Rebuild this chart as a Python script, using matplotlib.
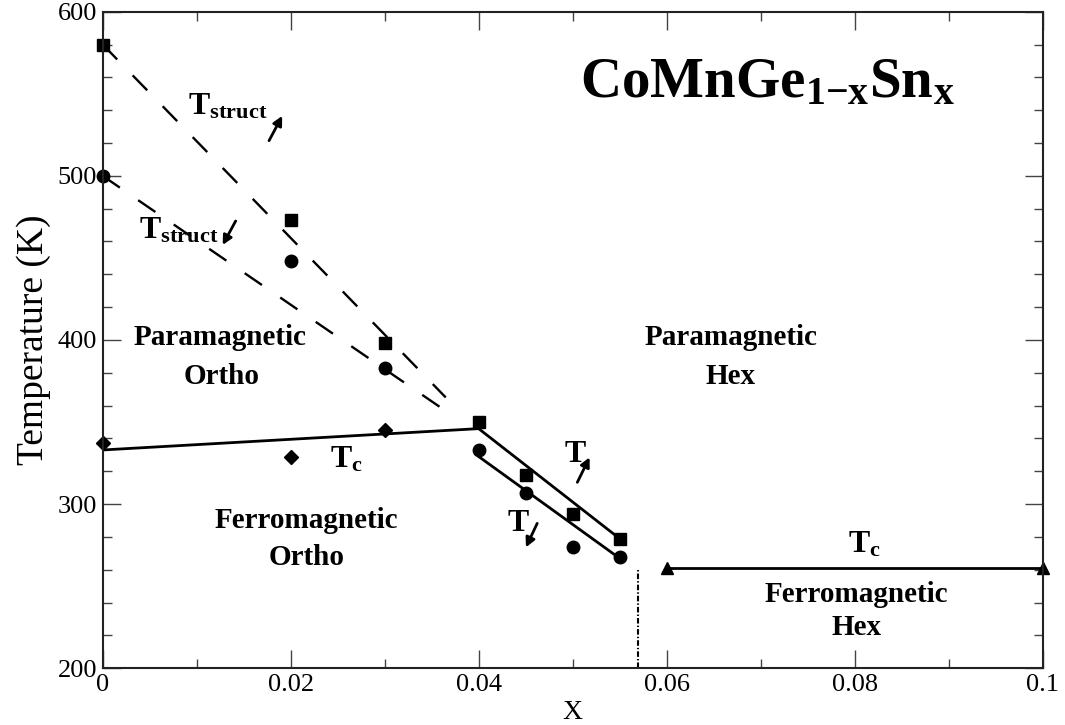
import matplotlib
matplotlib.use("Agg")
import numpy as np
from matplotlib import pyplot as plt

plt.rcParams['font.family'] = ['Liberation Serif', 'DejaVu Serif']
plt.rcParams['mathtext.fontset'] = 'custom'
plt.rcParams['mathtext.rm'] = 'Liberation Serif'
plt.rcParams['mathtext.bf'] = 'Liberation Serif:bold'
plt.rcParams['lines.scale_dashes'] = False

# measured points (x, temperature in K)
sq_x = [0.0, 0.02, 0.03, 0.04, 0.045, 0.05, 0.055]
sq_t = [580, 473, 398, 350, 318, 294, 279]
ci_x = [0.0, 0.02, 0.03, 0.04, 0.045, 0.05, 0.055]
ci_t = [500, 448, 383, 333, 307, 274, 268]
di_x = [0.0, 0.02, 0.03]
di_t = [337, 329, 345]
tri_x = [0.06, 0.1]
tri_t = [261, 261]

# guide lines
struct_hi_x = [0.0, 0.0365]
struct_hi_t = [580, 365]
struct_lo_x = [0.0, 0.0372]
struct_lo_t = [500, 354]
tc_ortho_x = [0.0, 0.04]
tc_ortho_t = [333, 346]
hex_hi_x = [0.04, 0.055]
hex_hi_t = [346, 279]
hex_lo_x = [0.04, 0.055]
hex_lo_t = [329, 267]
boundary_x = [0.057, 0.057]
boundary_t = [200, 261]

# arrows: (tail, tip)
arrows = [((0.0177, 521.4), (0.0191, 536.5)),
          ((0.01415, 472.5), (0.01277, 457.9)),
          ((0.0505, 313.3), (0.0518, 328.5)),
          ((0.04623, 288.3), (0.04503, 273.7))]

# phase labels: (x, T, text)
regions = [(0.0125, 401.8, 'Paramagnetic'), (0.0127, 377.5, 'Ortho'),
           (0.0217, 290.3, 'Ferromagnetic'), (0.0217, 267.8, 'Ortho'),
           (0.0668, 401.8, 'Paramagnetic'), (0.0668, 377.5, 'Hex'),
           (0.0802, 244.7, 'Ferromagnetic'), (0.0802, 224.6, 'Hex')]
# transition labels (left, baseline)
tlabels = [(0.00907, 537.1, r'$\mathbf{T_{struct}}$'),
           (0.00386, 462.1, r'$\mathbf{T_{struct}}$'),
           (0.04907, 325.9, r'$\mathbf{T}$'),
           (0.0430, 283.8, r'$\mathbf{T}$'),
           (0.0242, 322.6, r'$\mathbf{T_c}$'),
           (0.0793, 270.8, r'$\mathbf{T_c}$')]

fig = plt.figure(figsize=(10.65, 7.25), dpi=100)
ax = fig.add_axes([0.0964, 0.0782, 0.979 - 0.0964, 0.9839 - 0.0782])

dash = (0, (15, 16))
ax.plot(struct_hi_x, struct_hi_t, color='k', lw=1.7, linestyle=dash)
ax.plot(struct_lo_x, struct_lo_t, color='k', lw=1.7, linestyle=dash)
ax.plot(tc_ortho_x, tc_ortho_t, color='k', lw=2)
ax.plot(hex_hi_x, hex_hi_t, color='k', lw=2)
ax.plot(hex_lo_x, hex_lo_t, color='k', lw=2)
ax.plot(tri_x, tri_t, color='k', lw=2)
ax.plot(boundary_x, boundary_t, color='k', lw=1.5, linestyle=(0, (4, 1.5, 1, 1.5)))

ax.plot(sq_x, sq_t, 's', color='k', ms=8, clip_on=False)
ax.plot(ci_x, ci_t, 'o', color='k', ms=9, clip_on=False)
ax.plot(di_x, di_t, 'D', color='k', ms=7.5, clip_on=False)
ax.plot(tri_x, tri_t, '^', color='k', ms=9, clip_on=False)

for tail, tip in arrows:
    ax.annotate('', xy=tip, xytext=tail,
                arrowprops=dict(arrowstyle='-|>,head_length=0.55,head_width=0.28',
                                lw=2, color='k', shrinkA=0, shrinkB=0))

for x, t, s in regions:
    ax.text(x, t, s, ha='center', va='center', fontsize=21, fontweight='bold')
for x, t, s in tlabels:
    ax.text(x, t, s, ha='left', va='baseline', fontsize=23)

ax.text(0.0508, 548.2, r'$\mathbf{CoMnGe_{1{-}x}Sn_x}$', ha='left', va='baseline', fontsize=41)

ax.set_xlim(0, 0.1)
ax.set_ylim(200, 600)
ax.set_xticks([0, 0.02, 0.04, 0.06, 0.08, 0.1])
ax.set_xticklabels(['0', '0.02', '0.04', '0.06', '0.08', '0.1'])
ax.set_xticks(np.arange(0.01, 0.1, 0.02), minor=True)
ax.set_yticks([200, 300, 400, 500, 600])
ax.set_yticks([y for y in range(220, 600, 20) if y % 100], minor=True)
ax.tick_params(which='both', direction='in', top=True, right=True,
               labelsize=19, color='#444444', width=1)
ax.tick_params(which='major', length=13, pad=4)
ax.tick_params(which='minor', length=6.5)
for sp in ax.spines.values():
    sp.set_linewidth(1.5)
    sp.set_color('#222222')

ax.set_ylabel('Temperature (K)', fontsize=27, labelpad=5)
ax.set_xlabel('X', fontsize=20, labelpad=3)

fig.savefig('out.png', dpi=100)
